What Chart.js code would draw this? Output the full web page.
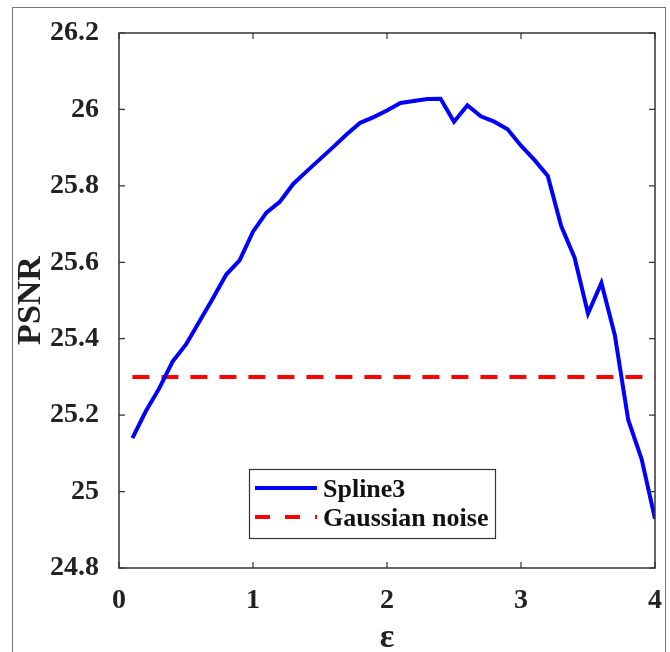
<!DOCTYPE html>
<html>
<head>
<meta charset="utf-8">
<script src="https://cdn.jsdelivr.net/npm/chart.js@4.4.1/dist/chart.umd.min.js"></script>
<style>
html, body { margin: 0; padding: 0; background: #fff; }
#wrap { position: relative; width: 670px; height: 652px; }
</style>
</head>
<body>
<div id="wrap"><canvas id="psnrChart" width="670" height="652"></canvas></div>
<script>
// values
var epsilon = [0.1, 0.2, 0.3, 0.4, 0.5, 0.6, 0.7, 0.8, 0.9, 1.0,
               1.1, 1.2, 1.3, 1.4, 1.5, 1.6, 1.7, 1.8, 1.9, 2.0,
               2.1, 2.2, 2.3, 2.4, 2.5, 2.6, 2.7, 2.8, 2.9, 3.0,
               3.1, 3.2, 3.3, 3.4, 3.5, 3.6, 3.7, 3.8, 3.9, 4.0];
var spline3 = [25.14, 25.21, 25.27, 25.34, 25.385, 25.445, 25.505, 25.568, 25.605, 25.68,
               25.73, 25.758, 25.805, 25.838, 25.87, 25.902, 25.935, 25.965, 25.98, 25.997,
               26.017, 26.022, 26.027, 26.028, 25.968, 26.011, 25.982, 25.968, 25.948, 25.905,
               25.868, 25.826, 25.695, 25.612, 25.466, 25.546, 25.41, 25.188, 25.085, 24.929];
var noiseX = [0.1, 4.0];
var noiseY = [25.3, 25.3];
var xTickLabels = ['0', '1', '2', '3', '4'];
var yTickLabels = ['24.8', '25', '25.2', '25.4', '25.6', '25.8', '26', '26.2'];

function toPoints(xs, ys) {
    return xs.map(function (x, i) { return { x: x, y: ys[i] }; });
}

Chart.defaults.font.family = '"Liberation Serif", "Times New Roman", serif';
Chart.defaults.font.weight = 'bold';
Chart.defaults.color = '#222';

// matlab style box, inward ticks and the grey outer frame
var boxPlugin = {
    id: 'boxPlugin',
    afterDraw: function (chart) {
        var ctx = chart.ctx, a = chart.chartArea;
        var xs = chart.scales.x, ys = chart.scales.y;
        ctx.save();
        ctx.strokeStyle = '#777';
        ctx.lineWidth = 1;
        ctx.strokeRect(12.5, 7.5, 653, 700);

        ctx.strokeStyle = '#333';
        ctx.lineWidth = 1.5;
        ctx.strokeRect(a.left, a.top, a.right - a.left, a.bottom - a.top);
        ctx.lineWidth = 1.2;
        ctx.beginPath();
        xs.ticks.forEach(function (t) {
            var px = xs.getPixelForValue(t.value);
            ctx.moveTo(px, a.bottom); ctx.lineTo(px, a.bottom - 6);
            ctx.moveTo(px, a.top); ctx.lineTo(px, a.top + 6);
        });
        ys.ticks.forEach(function (t) {
            var py = ys.getPixelForValue(t.value);
            ctx.moveTo(a.left, py); ctx.lineTo(a.left + 6, py);
            ctx.moveTo(a.right, py); ctx.lineTo(a.right - 6, py);
        });
        ctx.stroke();
        ctx.restore();
    }
};

// legend box inside the plot, like the matlab one
var legendPlugin = {
    id: 'boxLegend',
    afterDraw: function (chart) {
        var ctx = chart.ctx;
        var bx = 249, by = 469, bw = 246, bh = 69;
        ctx.save();
        ctx.fillStyle = '#fff';
        ctx.fillRect(bx, by, bw, bh);
        ctx.strokeStyle = '#333';
        ctx.lineWidth = 1.2;
        ctx.strokeRect(bx + 0.5, by + 0.5, bw, bh);
        ctx.font = 'bold 26px "Liberation Serif", "Times New Roman", serif';
        ctx.textBaseline = 'middle';
        chart.data.datasets.forEach(function (ds, i) {
            var y = by + 19 + i * 29;
            ctx.strokeStyle = ds.borderColor;
            ctx.lineWidth = ds.borderWidth;
            ctx.setLineDash(ds.borderDash ? [15, 15] : []);
            ctx.beginPath();
            ctx.moveTo(bx + 6, y);
            ctx.lineTo(bx + 68, y);
            ctx.stroke();
            ctx.setLineDash([]);
            ctx.fillStyle = '#111';
            ctx.fillText(ds.label, bx + 74, y + 2);
        });
        ctx.restore();
    }
};

var ctx = document.getElementById('psnrChart').getContext('2d');
var chart = new Chart(ctx, {
    type: 'line',
    data: {
        datasets: [{
            label: 'Spline3',
            data: toPoints(epsilon, spline3),
            borderColor: '#0000ff',
            borderWidth: 4,
            pointRadius: 0,
            tension: 0
        }, {
            label: 'Gaussian noise',
            data: toPoints(noiseX, noiseY),
            borderColor: '#ff0000',
            borderWidth: 4,
            borderDash: [17, 12],
            pointRadius: 0,
            tension: 0
        }]
    },
    options: {
        responsive: false,
        animation: false,
        layout: { padding: { top: 33, right: 13, left: 0, bottom: 0 } },
        plugins: {
            legend: { display: false },
            tooltip: { enabled: false }
        },
        scales: {
            x: {
                type: 'linear',
                min: 0,
                max: 4,
                grid: { display: false },
                border: { display: false },
                ticks: {
                    stepSize: 1,
                    padding: 8,
                    maxRotation: 0,
                    font: { size: 28, weight: 'bold' },
                    callback: function (v, i) { return xTickLabels[i]; }
                },
                title: {
                    display: true,
                    text: 'ε',
                    font: { size: 34, weight: 'bold', lineHeight: 0.8 },
                    padding: { top: 0, bottom: 0 }
                },
                afterFit: function (s) { s.height = 84; }
            },
            y: {
                min: 24.8,
                max: 26.2,
                grid: { display: false },
                border: { display: false },
                ticks: {
                    stepSize: 0.2,
                    padding: 12,
                    font: { size: 28, weight: 'bold' },
                    callback: function (v, i) { return yTickLabels[i]; }
                },
                title: {
                    display: true,
                    text: 'PSNR',
                    font: { size: 34, weight: 'bold' },
                    padding: { top: 11, bottom: 0 }
                },
                afterFit: function (s) { s.width = 119; }
            }
        }
    },
    plugins: [boxPlugin, legendPlugin]
});
</script>
</body>
</html>
